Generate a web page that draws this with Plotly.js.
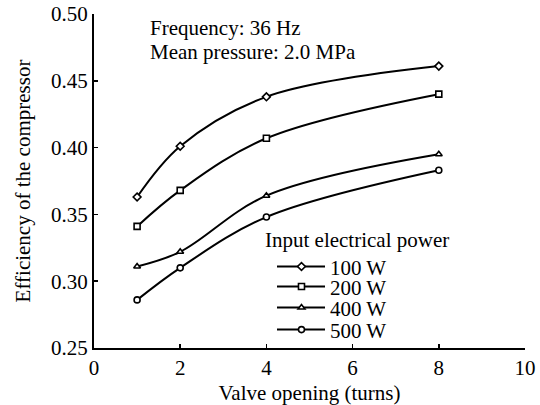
<!DOCTYPE html>
<html>
<head>
<meta charset="utf-8">
<script src="https://cdn.plot.ly/plotly-3.0.1.min.js"></script>
<style>
  html, body { margin: 0; padding: 0; background: #fff; }
  #chart { width: 540px; height: 405px; }
</style>
</head>
<body>
<div id="chart"></div>
<script>
// Valve opening in turns
const valveTurns = [1, 2, 4, 8];

// Compressor efficiency at each input electrical power
const eff100W = [0.363, 0.401, 0.438, 0.461];
const eff200W = [0.341, 0.368, 0.407, 0.440];
const eff400W = [0.311, 0.322, 0.364, 0.395];
const eff500W = [0.286, 0.310, 0.348, 0.383];

const seriesNames = ['100 W', '200 W', '400 W', '500 W'];
const seriesValues = [eff100W, eff200W, eff400W, eff500W];
const seriesSymbols = ['diamond', 'square', 'triangle-up', 'circle'];

const xTicks = [0, 2, 4, 6, 8, 10];
const yTicks = [0.25, 0.30, 0.35, 0.40, 0.45, 0.50];

const font = { family: 'Liberation Serif, Times New Roman, serif', size: 21, color: '#000' };

// Each series gets its own single-entry legend for the line (with the name)
// and another one for the marker, so the marker sits in the middle of the line.
const lineLegendIds = ['legend', 'legend2', 'legend3', 'legend4'];
const markLegendIds = ['legend5', 'legend6', 'legend7', 'legend8'];
const legendRowsY = [0.243, 0.183, 0.120, 0.054];

const lineTraces = seriesNames.map((name, i) => ({
  x: valveTurns,
  y: seriesValues[i],
  name: name,
  type: 'scatter',
  mode: 'lines',
  legend: lineLegendIds[i],
  line: { color: '#000', width: 2, shape: 'spline', smoothing: 1 }
}));

const markerTraces = seriesNames.map((name, i) => ({
  x: valveTurns,
  y: seriesValues[i],
  name: ' ',
  type: 'scatter',
  mode: 'markers',
  legend: markLegendIds[i],
  marker: { symbol: seriesSymbols[i], size: 6, color: '#fff', line: { color: '#000', width: 1.6 } }
}));

const layout = {
  width: 540,
  height: 405,
  margin: { l: 94, r: 15, t: 14, b: 57 },
  paper_bgcolor: '#fff',
  plot_bgcolor: '#fff',
  font: font,
  showlegend: true,
  xaxis: {
    range: [0, 10],
    tickvals: xTicks,
    ticktext: xTicks.map(String),
    ticks: 'inside', ticklen: 4, tickwidth: 1.5, tickcolor: '#000',
    showline: true, linecolor: '#000', linewidth: 2,
    showgrid: false, zeroline: false,
    tickfont: font,
    title: { text: 'Valve opening (turns)', font: font, standoff: 6 }
  },
  yaxis: {
    range: [0.25, 0.50],
    tickvals: yTicks,
    ticktext: yTicks.map(v => v.toFixed(2)),
    ticks: 'inside', ticklen: 4, tickwidth: 1.5, tickcolor: '#000',
    showline: true, linecolor: '#000', linewidth: 2,
    showgrid: false, zeroline: false,
    tickfont: font,
    title: { text: 'Efficiency of the compressor', font: font, standoff: 15 }
  },
  annotations: [
    { text: 'Frequency: 36 Hz', xref: 'paper', yref: 'paper', x: 0.125, y: 0.958,
      xanchor: 'left', yanchor: 'middle', showarrow: false, font: font },
    { text: 'Mean pressure: 2.0 MPa', xref: 'paper', yref: 'paper', x: 0.125, y: 0.886,
      xanchor: 'left', yanchor: 'middle', showarrow: false, font: font },
    { text: 'Input electrical power', xref: 'paper', yref: 'paper', x: 0.392, y: 0.324,
      xanchor: 'left', yanchor: 'middle', showarrow: false, font: font }
  ]
};

const legendBase = {
  xanchor: 'left', yanchor: 'middle',
  bgcolor: 'rgba(0,0,0,0)',
  borderwidth: 0,
  font: font
};

lineLegendIds.forEach((id, i) => {
  layout[id] = Object.assign({}, legendBase, { x: 0.413, y: legendRowsY[i], itemwidth: 48 });
});
markLegendIds.forEach((id, i) => {
  layout[id] = Object.assign({}, legendBase, { x: 0.435, y: legendRowsY[i], itemwidth: 30 });
});

Plotly.newPlot('chart', lineTraces.concat(markerTraces), layout, { displayModeBar: false, staticPlot: true });
</script>
</body>
</html>
